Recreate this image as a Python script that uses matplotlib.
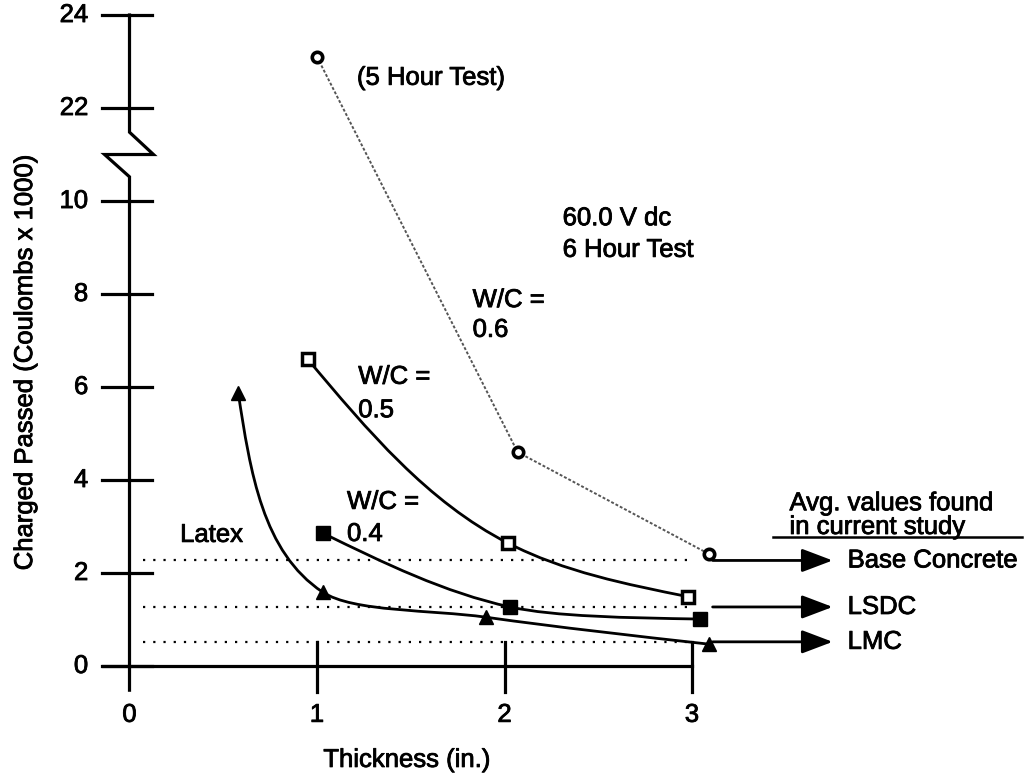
import numpy as np
import matplotlib
matplotlib.use('Agg')
import matplotlib.pyplot as plt
import matplotlib.patheffects as pe
from matplotlib.path import Path
from matplotlib.patches import PathPatch

plt.rcParams['font.family'] = ['Liberation Sans', 'DejaVu Sans']

# --- data ---
wc06_x = [1.00, 2.07, 3.09]
wc06_y = [23.1, 4.60, 2.41]
wc05_x = [0.95, 2.02, 2.98]
wc05_y = [6.60, 2.64, 1.49]
wc04_x = [1.03, 2.03, 3.04]
wc04_y = [2.86, 1.27, 1.01]
latex_x = [0.58, 1.03, 1.90, 3.09]
latex_y = [5.87, 1.59, 1.05, 0.47]

avg_names = ['Base Concrete', 'LSDC', 'LMC']
avg_values = [2.27, 1.27, 0.52]

x_ticks = [0, 1, 2, 3]
y_ticks = [0, 2, 4, 6, 8, 10, 22, 24]


# broken y axis: 10..21 squeezed into one unit
def fwd(y):
    y = np.asarray(y, dtype=float)
    return np.where(y <= 10, y, np.where(y >= 21, y - 10, 10 + (y - 10) / 11))


def inv(e):
    e = np.asarray(e, dtype=float)
    return np.where(e <= 10, e, np.where(e >= 11, e + 10, 10 + (e - 10) * 11))


def clamp_handle(p, c, q):
    # keep the handle from overshooting the segment vertically
    dy = abs(q[1] - p[1])
    hy = abs(c[1] - p[1])
    if hy > 0.8 * dy and hy > 0:
        c = p + (c - p) * (0.8 * dy / hy)
    return c


def smooth_curve(ax, xs, ys, **kw):
    """Draw a smooth bezier curve through the points (shape built in display space)."""
    P = ax.transData.transform(np.column_stack([xs, ys]))
    n = len(P)
    T = np.zeros_like(P)
    for i in range(1, n - 1):
        a = P[i] - P[i - 1]
        b = P[i + 1] - P[i]
        la, lb = np.hypot(*a), np.hypot(*b)
        t = a / la * lb / (la + lb) + b / lb * la / (la + lb)
        T[i] = t / np.hypot(*t)
    verts = [P[0]]
    for i in range(n - 1):
        L = np.hypot(*(P[i + 1] - P[i]))
        c1 = clamp_handle(P[i], P[i] + T[i] * L / 3, P[i + 1]) if i > 0 else None
        c2 = clamp_handle(P[i + 1], P[i + 1] - T[i + 1] * L / 3, P[i]) if i + 1 < n - 1 else None
        if c1 is None:
            c1 = P[i] + (c2 - P[i]) / 2
        if c2 is None:
            c2 = P[i + 1] + (c1 - P[i + 1]) / 2
        verts += [c1, c2, P[i + 1]]
    codes = [Path.MOVETO] + [Path.CURVE4] * 3 * (n - 1)
    dverts = ax.transData.inverted().transform(np.array(verts))
    ax.add_patch(PathPatch(Path(dverts, codes), fill=False, **kw))


fig = plt.figure(figsize=(10.31, 7.81), dpi=100)
ax = fig.add_axes([0, 0, 1, 1])
ax.axis('off')
ax.set_yscale('function', functions=(fwd, inv))
ax.set_xlim(-0.6907, 4.808)
ax.set_ylim(-2.473, float(inv(14.323)))

AX_LW = 2.3
FS = 18.5
ink = [pe.withStroke(linewidth=0.6, foreground='k')]
txt = dict(fontsize=FS, path_effects=ink)

# y axis with break
ax.plot([0, 0, 0.128, -0.133, 0, 0],
        [24, inv(11.48), inv(11.0), inv(11.0), inv(10.52), -0.52],
        color='k', lw=AX_LW, solid_joinstyle='miter')
# x axis
ax.plot([-0.14, 3.0], [0, 0], color='k', lw=AX_LW)
for t in y_ticks:
    ax.plot([-0.145, 0.12], [t, t], color='k', lw=AX_LW)
    ax.text(-0.22, t, str(t), ha='right', va='center', **txt)
for t in x_ticks:
    if t > 0:
        ax.plot([t, t], [-0.56, 0.52], color='k', lw=AX_LW)
    ax.text(t, -1.05, str(t), ha='center', va='center', **txt)

ax.text(-0.557, 6.54, 'Charged Passed (Coulombs x 1000)', rotation=90,
        ha='center', va='center', **txt)
ax.text(1.48, -2.02, 'Thickness (in.)', ha='center', va='center', **txt)

# average values: dotted lines + arrows
for name, v in zip(avg_names, avg_values):
    ax.plot([0.07, 3.0], [v, v], color='k', lw=1.6, linestyle=(0, (1, 3.6)))
    ax.annotate('', xy=(3.75, v), xytext=(3.11, v),
                arrowprops=dict(arrowstyle='-|>,head_length=0.95,head_width=0.36',
                                color='k', lw=2, mutation_scale=20,
                                shrinkA=0, shrinkB=0))
    ax.text(3.83, v, name, ha='left', va='center', **txt)

ax.text(3.52, 3.50, 'Avg. values found', ha='left', va='center', **txt)
ax.text(3.52, 2.99, 'in current study', ha='left', va='center', **txt)
ax.plot([3.43, 4.76], [2.77, 2.77], color='k', lw=1.8)

# W/C = 0.6 (straight dotted segments)
ax.plot(wc06_x, wc06_y, color='#555555', lw=1.4, linestyle=(0, (1.5, 1)), zorder=3)
ax.plot(wc06_x, wc06_y, linestyle='none', marker='o', ms=7.5, mfc='white',
        mec='k', mew=2.6, zorder=5)

# smooth curves
smooth_curve(ax, wc05_x, wc05_y, color='k', lw=2, zorder=3)
smooth_curve(ax, wc04_x, wc04_y, color='k', lw=2, zorder=3)
smooth_curve(ax, latex_x, latex_y, color='k', lw=2, zorder=3)

ax.plot(wc05_x, wc05_y, linestyle='none', marker='s', ms=8.5, mfc='white',
        mec='k', mew=2.5, zorder=5)
ax.plot(wc04_x, wc04_y, linestyle='none', marker='s', ms=10.5, color='k', zorder=5)
ax.plot(latex_x, latex_y, linestyle='none', marker='^', ms=10.5, color='k', zorder=5)

# annotations
ax.text(1.213, 22.65, '(5 Hour Test)', ha='left', va='center', **txt)
ax.text(2.31, 9.63, '60.0 V dc', ha='left', va='center', **txt)
ax.text(2.31, 8.95, '6 Hour Test', ha='left', va='center', **txt)
ax.text(1.83, 7.87, 'W/C =', ha='left', va='center', **txt)
ax.text(1.83, 7.23, '0.6', ha='left', va='center', **txt)
ax.text(1.22, 6.22, 'W/C =', ha='left', va='center', **txt)
ax.text(1.22, 5.50, '0.5', ha='left', va='center', **txt)
ax.text(1.16, 3.53, 'W/C =', ha='left', va='center', **txt)
ax.text(1.16, 2.84, '0.4', ha='left', va='center', **txt)
ax.text(0.27, 2.82, 'Latex', ha='left', va='center', **txt)

fig.savefig('out.png', dpi=100)
